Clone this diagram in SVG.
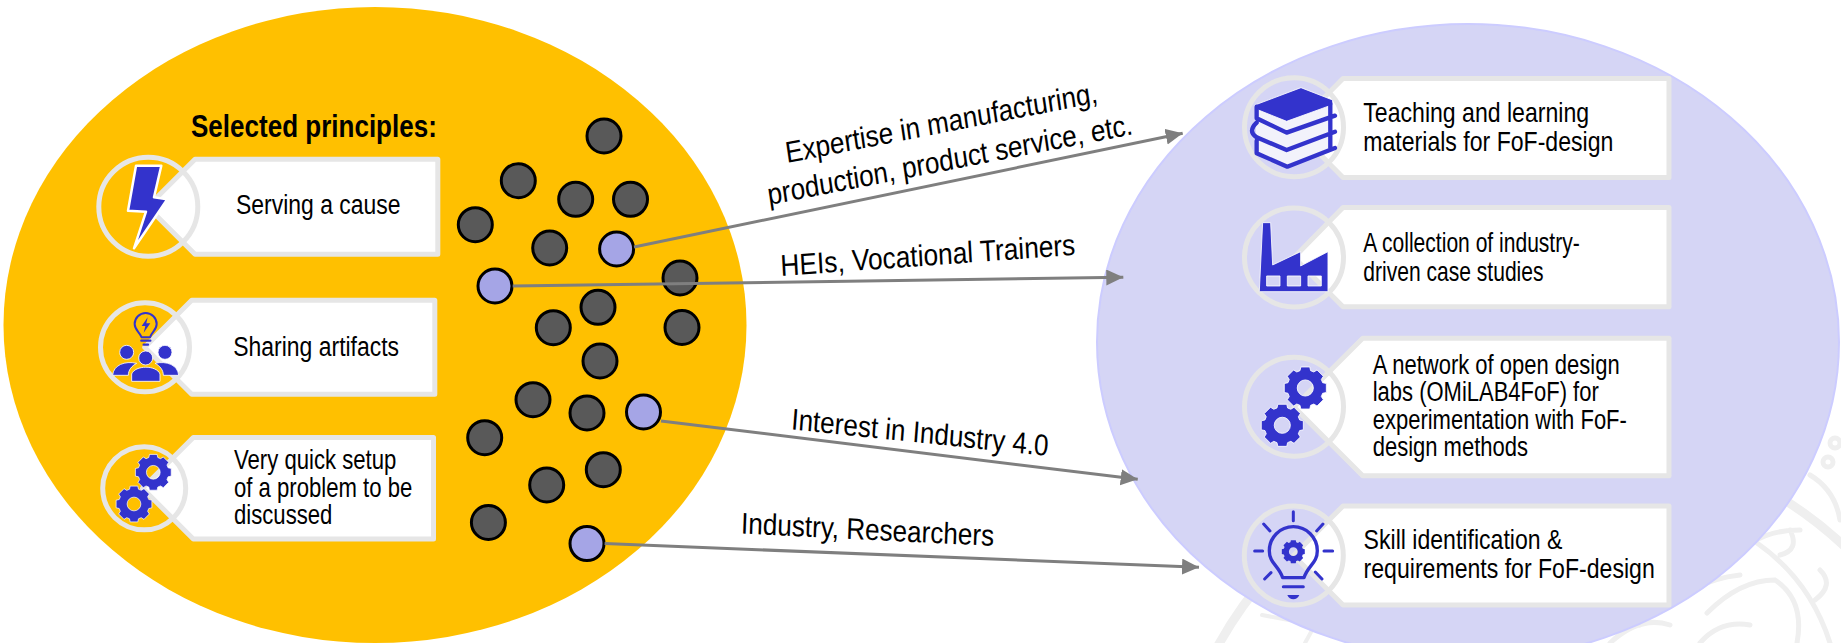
<svg xmlns="http://www.w3.org/2000/svg" xmlns:xlink="http://www.w3.org/1999/xlink" width="1841" height="643" viewBox="0 0 1841 643">
<style>
text{font-family:"Liberation Sans",Arial,sans-serif;fill:#000}
.c{font-size:27px}
.l{font-size:30px}
.h{font-size:31px;font-weight:bold}
.card{fill:#fff;stroke:#e6e6e6;stroke-width:5;stroke-linejoin:round}
.ring{fill:none;stroke:#e6e6e6;stroke-width:5}
.d{fill:#595959;stroke:#000;stroke-width:3}
.a{fill:#a5a5e6;stroke:#000;stroke-width:3}
.i{fill:#3333cc;stroke:#fff;stroke-width:2.5;stroke-linejoin:round}
.o{fill:none;stroke:#3333cc;stroke-linecap:round;stroke-linejoin:round}
.w{fill:none;stroke:#efefef;stroke-linecap:round}
.ar{stroke:#7f7f7f;stroke-width:3;fill:none;marker-end:url(#tip)}
</style>
<defs>
<marker id="tip" markerUnits="userSpaceOnUse" markerWidth="18" markerHeight="18" refX="17" refY="8" orient="auto"><path d="M0,0L17,8L0,16Z" fill="#7f7f7f"/></marker>
<path id="gear" fill-rule="evenodd" d="M-15.8,-51.6L-13.3,-62.6L13.3,-62.6L15.8,-51.6L25.4,-47.7L34.9,-53.7L53.7,-34.9L47.7,-25.4L51.6,-15.8L62.6,-13.3L62.6,13.3L51.6,15.8L47.7,25.4L53.7,34.9L34.9,53.7L25.4,47.7L15.8,51.6L13.3,62.6L-13.3,62.6L-15.8,51.6L-25.4,47.7L-34.9,53.7L-53.7,34.9L-47.7,25.4L-51.6,15.8L-62.6,13.3L-62.6,-13.3L-51.6,-15.8L-47.7,-25.4L-53.7,-34.9L-34.9,-53.7L-25.4,-47.7ZM-24,0A24,24 0 1,0 24,0A24,24 0 1,0 -24,0Z"/>
</defs>
<rect width="1841" height="643" fill="#fff"/>
<g id="watermark">
<circle class="w" cx="1570" cy="840" r="402" stroke-width="9"/>
<path class="w" stroke-width="5" d="M1757,543Q1810,580 1830,643M1707,613Q1740,580 1775,580Q1805,600 1797,643M1610,643Q1640,615 1670,625M1735,560Q1755,530 1800,530M1810,475Q1835,490 1840,520M1790,530Q1800,550 1780,555M1820,570Q1835,585 1815,600M1640,625Q1690,580 1740,575M1700,643Q1720,620 1750,625"/>
<circle class="w" cx="1828" cy="462" r="5" stroke-width="5"/>
<circle class="w" cx="1835" cy="443" r="5" stroke-width="5"/>
<path class="w" stroke-width="4" d="M1262,615L1315,625L1305,643M1440,643Q1470,610 1500,640"/>
</g>
<ellipse id="left-ellipse" cx="375" cy="325" rx="371.5" ry="318" fill="#ffc000"/>
<ellipse id="right-ellipse" cx="1468" cy="342" rx="371" ry="318" fill="#d5d5f5" stroke="#ccccff" stroke-width="2"/>
<g id="dots">
<circle class="d" cx="604" cy="136" r="17"/>
<circle class="d" cx="518.3" cy="180.7" r="17"/>
<circle class="d" cx="575.7" cy="199.3" r="17"/>
<circle class="d" cx="630.5" cy="199.3" r="17"/>
<circle class="d" cx="475.3" cy="224.7" r="17"/>
<circle class="d" cx="549.7" cy="248" r="17"/>
<circle class="a" cx="616.6" cy="249" r="17"/>
<circle class="a" cx="495" cy="286" r="17"/>
<circle class="d" cx="680" cy="278" r="17"/>
<circle class="d" cx="598" cy="307.3" r="17"/>
<circle class="d" cx="553.3" cy="327.7" r="17"/>
<circle class="d" cx="682" cy="327.5" r="17"/>
<circle class="d" cx="600" cy="361" r="17"/>
<circle class="d" cx="533" cy="399.7" r="17"/>
<circle class="d" cx="587" cy="413" r="17"/>
<circle class="a" cx="643.5" cy="412" r="17"/>
<circle class="d" cx="484.7" cy="437.7" r="17"/>
<circle class="d" cx="603.3" cy="469.7" r="17"/>
<circle class="d" cx="546.7" cy="485" r="17"/>
<circle class="d" cx="488.4" cy="522.5" r="17"/>
<circle class="a" cx="587" cy="543.6" r="17"/>
</g>
<g id="connectors">
<path class="ar" d="M634,247L1182.7,133.3"/>
<path class="ar" d="M512.7,286L1123.3,277.3"/>
<path class="ar" d="M661,421L1137.7,479.3"/>
<path class="ar" d="M604.6,543.6L1199,567.3"/>
</g>
<g id="edge-labels">
<text class="l" transform="translate(787,163) scale(.87,1) rotate(-9.6)">Expertise in manufacturing,</text>
<text class="l" transform="translate(769,205) scale(.87,1) rotate(-9.6)">production, product service, etc.</text>
<text class="l" transform="translate(781,276) scale(.877,1) rotate(-3.6)">HEIs, Vocational Trainers</text>
<text class="l" transform="translate(790.7,429.3) scale(.87,1) rotate(5.14)">Interest in Industry 4.0</text>
<text class="l" transform="translate(740.7,533.5) scale(.87,1) rotate(2.44)">Industry, Researchers</text>
</g>
<text id="heading" class="h" transform="translate(191,137) scale(.84,1)">Selected principles:</text>
<g id="principle-cause">
<path class="card" d="M195,159.2H437.8V254.2H195L147.5,206.7Z"/>
<circle class="ring" cx="148.3" cy="206.7" r="49.5"/>
<path class="i" stroke-width="1.2" d="M136,165.7H161.3L154,197.3L167.3,199.3L134,248.3L146,211.7L128,210.7Z"/>
<text class="c" transform="translate(236,214) scale(.85,1)">Serving a cause</text>
</g>
<g id="principle-sharing">
<path class="card" d="M191.7,300.2H434.8V394.2H191.7L144.7,347.2Z"/>
<circle class="ring" cx="145" cy="347.3" r="44.5"/>
<g transform="translate(60,250) scale(.3333)">
<path class="o" stroke-width="6" d="M245,262C238,245 224,240 224,222A33,33 0 0 1 290,222C290,240 276,245 270,262Z"/>
<path class="o" stroke-width="7" d="M244,272H271M251,284H264"/>
<path fill="#3333cc" d="M263,202L245,228H256L251,248L271,220H259Z"/>
<circle class="i" cx="200" cy="307" r="21"/>
<circle class="i" cx="315" cy="307" r="21"/>
<path class="i" d="M158,376C160,345 195,332 230,340C215,348 205,360 205,376ZM356,376C354,345 320,332 285,340C300,348 310,360 310,376Z"/>
<circle class="i" cx="257" cy="324" r="21"/>
<path class="i" d="M215,394V372C225,345 290,345 300,372V394Z"/>
</g>
<text class="c" transform="translate(233.3,356) scale(.85,1)">Sharing artifacts</text>
</g>
<g id="principle-setup">
<path class="card" d="M193.3,437.5H433.5V539H193.3L142.5,488.3Z"/>
<circle class="ring" cx="144.2" cy="488.3" r="41.5"/>
<use xlink:href="#gear" href="#gear" class="i" stroke-width="3" transform="translate(153.3,472.3) scale(.286)"/>
<use xlink:href="#gear" href="#gear" class="i" stroke-width="3" transform="translate(134,504) scale(.286)"/>
<text class="c" transform="translate(234,469) scale(.82,1)"><tspan x="0">Very quick setup</tspan><tspan x="0" dy="27.6">of a problem to be</tspan><tspan x="0" dy="27.6">discussed</tspan></text>
</g>
<g id="output-materials">
<path class="card" d="M1343,78.5H1669V177.5H1343L1294,128Z"/>
<circle class="ring" cx="1294" cy="127.3" r="49.5"/>
<g transform="translate(1040,50) scale(.3333)">
<path fill="#f2f2fb" d="M648,170L740,210L875,160V300L742,350L648,305Z"/>
<path class="i" stroke-width="2" d="M645,165L783,113L878,150V164L740,214L650,178Z"/>
<path class="o" stroke-width="13" stroke-linecap="butt" stroke-linejoin="miter" d="M650,170V205L740,248L885,197M650,218Q622,245 650,262L740,300L885,245M650,272V310L742,350L885,294M871,160V197M871,208V245M871,255V294"/>
</g>
<text class="c" transform="translate(1363.3,121.7) scale(.855,1)"><tspan x="0">Teaching and learning</tspan><tspan x="0" dy="29">materials for FoF-design</tspan></text>
</g>
<g id="output-cases">
<path class="card" d="M1343,207.5H1669V306.8H1343L1294,257.5Z"/>
<circle class="ring" cx="1294" cy="257.5" r="49.5"/>
<g transform="translate(1040,50) scale(.3333)">
<path class="i" stroke-width="2" d="M668,518H692L698,645L782,605V648L864,605V725H658ZM680,678V708H720V678ZM742,678V708H782V678ZM804,678V708H844V678Z" fill-rule="evenodd"/>
</g>
<text class="c" transform="translate(1363.3,251.7) scale(.78,1)"><tspan x="0">A collection of industry-</tspan><tspan x="0" dy="29">driven case studies</tspan></text>
</g>
<g id="output-network">
<path class="card" d="M1362.7,338.2H1669V475.8H1362.7L1294,407Z"/>
<circle class="ring" cx="1294" cy="406.7" r="49.5"/>
<use xlink:href="#gear" href="#gear" class="i" stroke-width="3" transform="translate(1305.3,388) scale(.336)"/>
<use xlink:href="#gear" href="#gear" class="i" stroke-width="3" transform="translate(1282.3,425.3) scale(.336)"/>
<text class="c" transform="translate(1372.7,374) scale(.815,1)"><tspan x="0">A network of open design</tspan><tspan x="0" dy="27.4">labs (OMiLAB4FoF) for</tspan><tspan x="0" dy="27.4">experimentation with FoF-</tspan><tspan x="0" dy="27.4">design methods</tspan></text>
</g>
<g id="output-skills">
<path class="card" d="M1343,506H1669V605H1343L1293.5,555.5Z"/>
<circle class="ring" cx="1293.8" cy="555.5" r="49.5"/>
<g transform="translate(1100,530) scale(.3333)">
<path class="o" stroke-width="10" d="M548,143C535,105 508,100 508,62A72,72 0 0 1 652,62C652,100 625,105 612,143Z"/>
<path class="o" stroke-width="9" d="M580,-55V-28M464,63H488M672,63H698M494,147L513,128M666,147L646,126M491,-18L510,3M669,-18L650,3M550,170H610"/>
<path fill="#3333cc" d="M562,195H598Q592,208 580,208Q568,208 562,195Z"/>
<use xlink:href="#gear" href="#gear" fill="#3333cc" transform="translate(580,65) scale(.55)"/>
</g>
<text class="c" transform="translate(1363.6,549.3) scale(.855,1)"><tspan x="0">Skill identification &amp;</tspan><tspan x="0" dy="29">requirements for FoF-design</tspan></text>
</g>
</svg>
